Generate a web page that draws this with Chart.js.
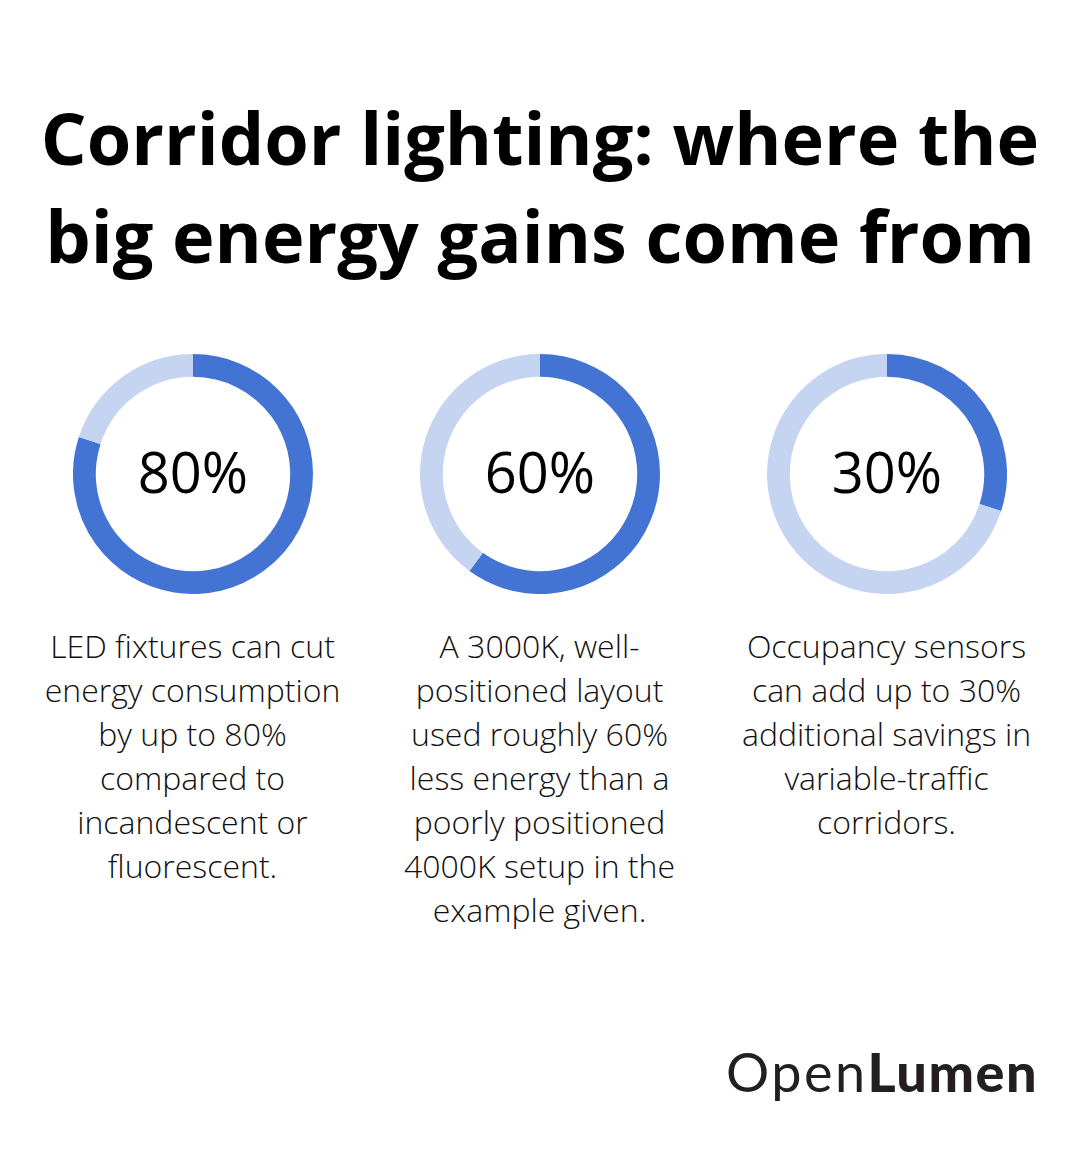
<!DOCTYPE html>
<html>
<head>
<meta charset="utf-8">
<script src="https://cdn.jsdelivr.net/npm/chart.js@4"></script>
<style>
  html, body { margin: 0; padding: 0; background: #fff; }
  body { width: 1080px; height: 1158px; position: relative; overflow: hidden; font-family: "Open Sans", sans-serif; }
  h1 {
    position: absolute; left: 0; top: 88px; width: 1080px; margin: 0;
    text-align: center; font-size: 72px; line-height: 98px; font-weight: 700; color: #000;
  }
  .col { position: absolute; top: 354px; width: 347px; text-align: center; }
  .col canvas { display: block; margin: 0 auto; }
  .desc {
    margin-top: 30px; font-size: 32px; line-height: 44px; font-weight: 300; color: #111;
    white-space: pre-line;
  }
  .logo {
    position: absolute; right: 42px; top: 1039px; font-family: "Lato", sans-serif;
    font-size: 54px; color: #231f20; letter-spacing: 2.5px;
  }
  .logo b { font-weight: 900; letter-spacing: 1.5px; }
</style>
</head>
<body>
<h1>Corridor lighting: where the<br>big energy gains come from</h1>

<div class="col" style="left:19px"><canvas id="c0" width="240" height="240"></canvas><div class="desc" id="d0"></div></div>
<div class="col" style="left:366px"><canvas id="c1" width="240" height="240"></canvas><div class="desc" id="d1"></div></div>
<div class="col" style="left:713px"><canvas id="c2" width="240" height="240"></canvas><div class="desc" id="d2"></div></div>

<div class="logo">Open<b>Lumen</b></div>

<script>
const values = [80, 60, 30];
const centerLabels = ['80%', '60%', '30%'];
const descriptions = [
  'LED fixtures can cut\nenergy consumption\nby up to 80%\ncompared to\nincandescent or\nfluorescent.',
  'A 3000K, well-\npositioned layout\nused roughly 60%\nless energy than a\npoorly positioned\n4000K setup in the\nexample given.',
  'Occupancy sensors\ncan add up to 30%\nadditional savings in\nvariable-traffic\ncorridors.'
];

const darkBlue = '#4474d3';
const lightBlue = '#c5d5f1';

// draws the big percentage in the hole of each ring
const centerText = {
  id: 'centerText',
  afterDraw(chart, args, opts) {
    const { ctx } = chart;
    const arc = chart.getDatasetMeta(0).data[0];
    ctx.save();
    ctx.font = '500 56px "Open Sans"';
    ctx.fillStyle = '#000';
    ctx.textAlign = 'center';
    ctx.textBaseline = 'alphabetic';
    ctx.fillText(opts.text, arc.x, arc.y + 19);
    ctx.restore();
  }
};

values.forEach((v, i) => {
  document.getElementById('d' + i).textContent = descriptions[i];
  new Chart(document.getElementById('c' + i), {
    type: 'doughnut',
    data: {
      labels: ['Savings', 'Rest'],
      datasets: [{
        data: [v, 100 - v],
        backgroundColor: [darkBlue, lightBlue],
        borderWidth: 0
      }]
    },
    options: {
      responsive: false,
      animation: false,
      cutout: '81%',
      plugins: {
        legend: { display: false },
        tooltip: { enabled: false },
        centerText: { text: centerLabels[i] }
      }
    },
    plugins: [centerText]
  });
});
</script>
</body>
</html>
